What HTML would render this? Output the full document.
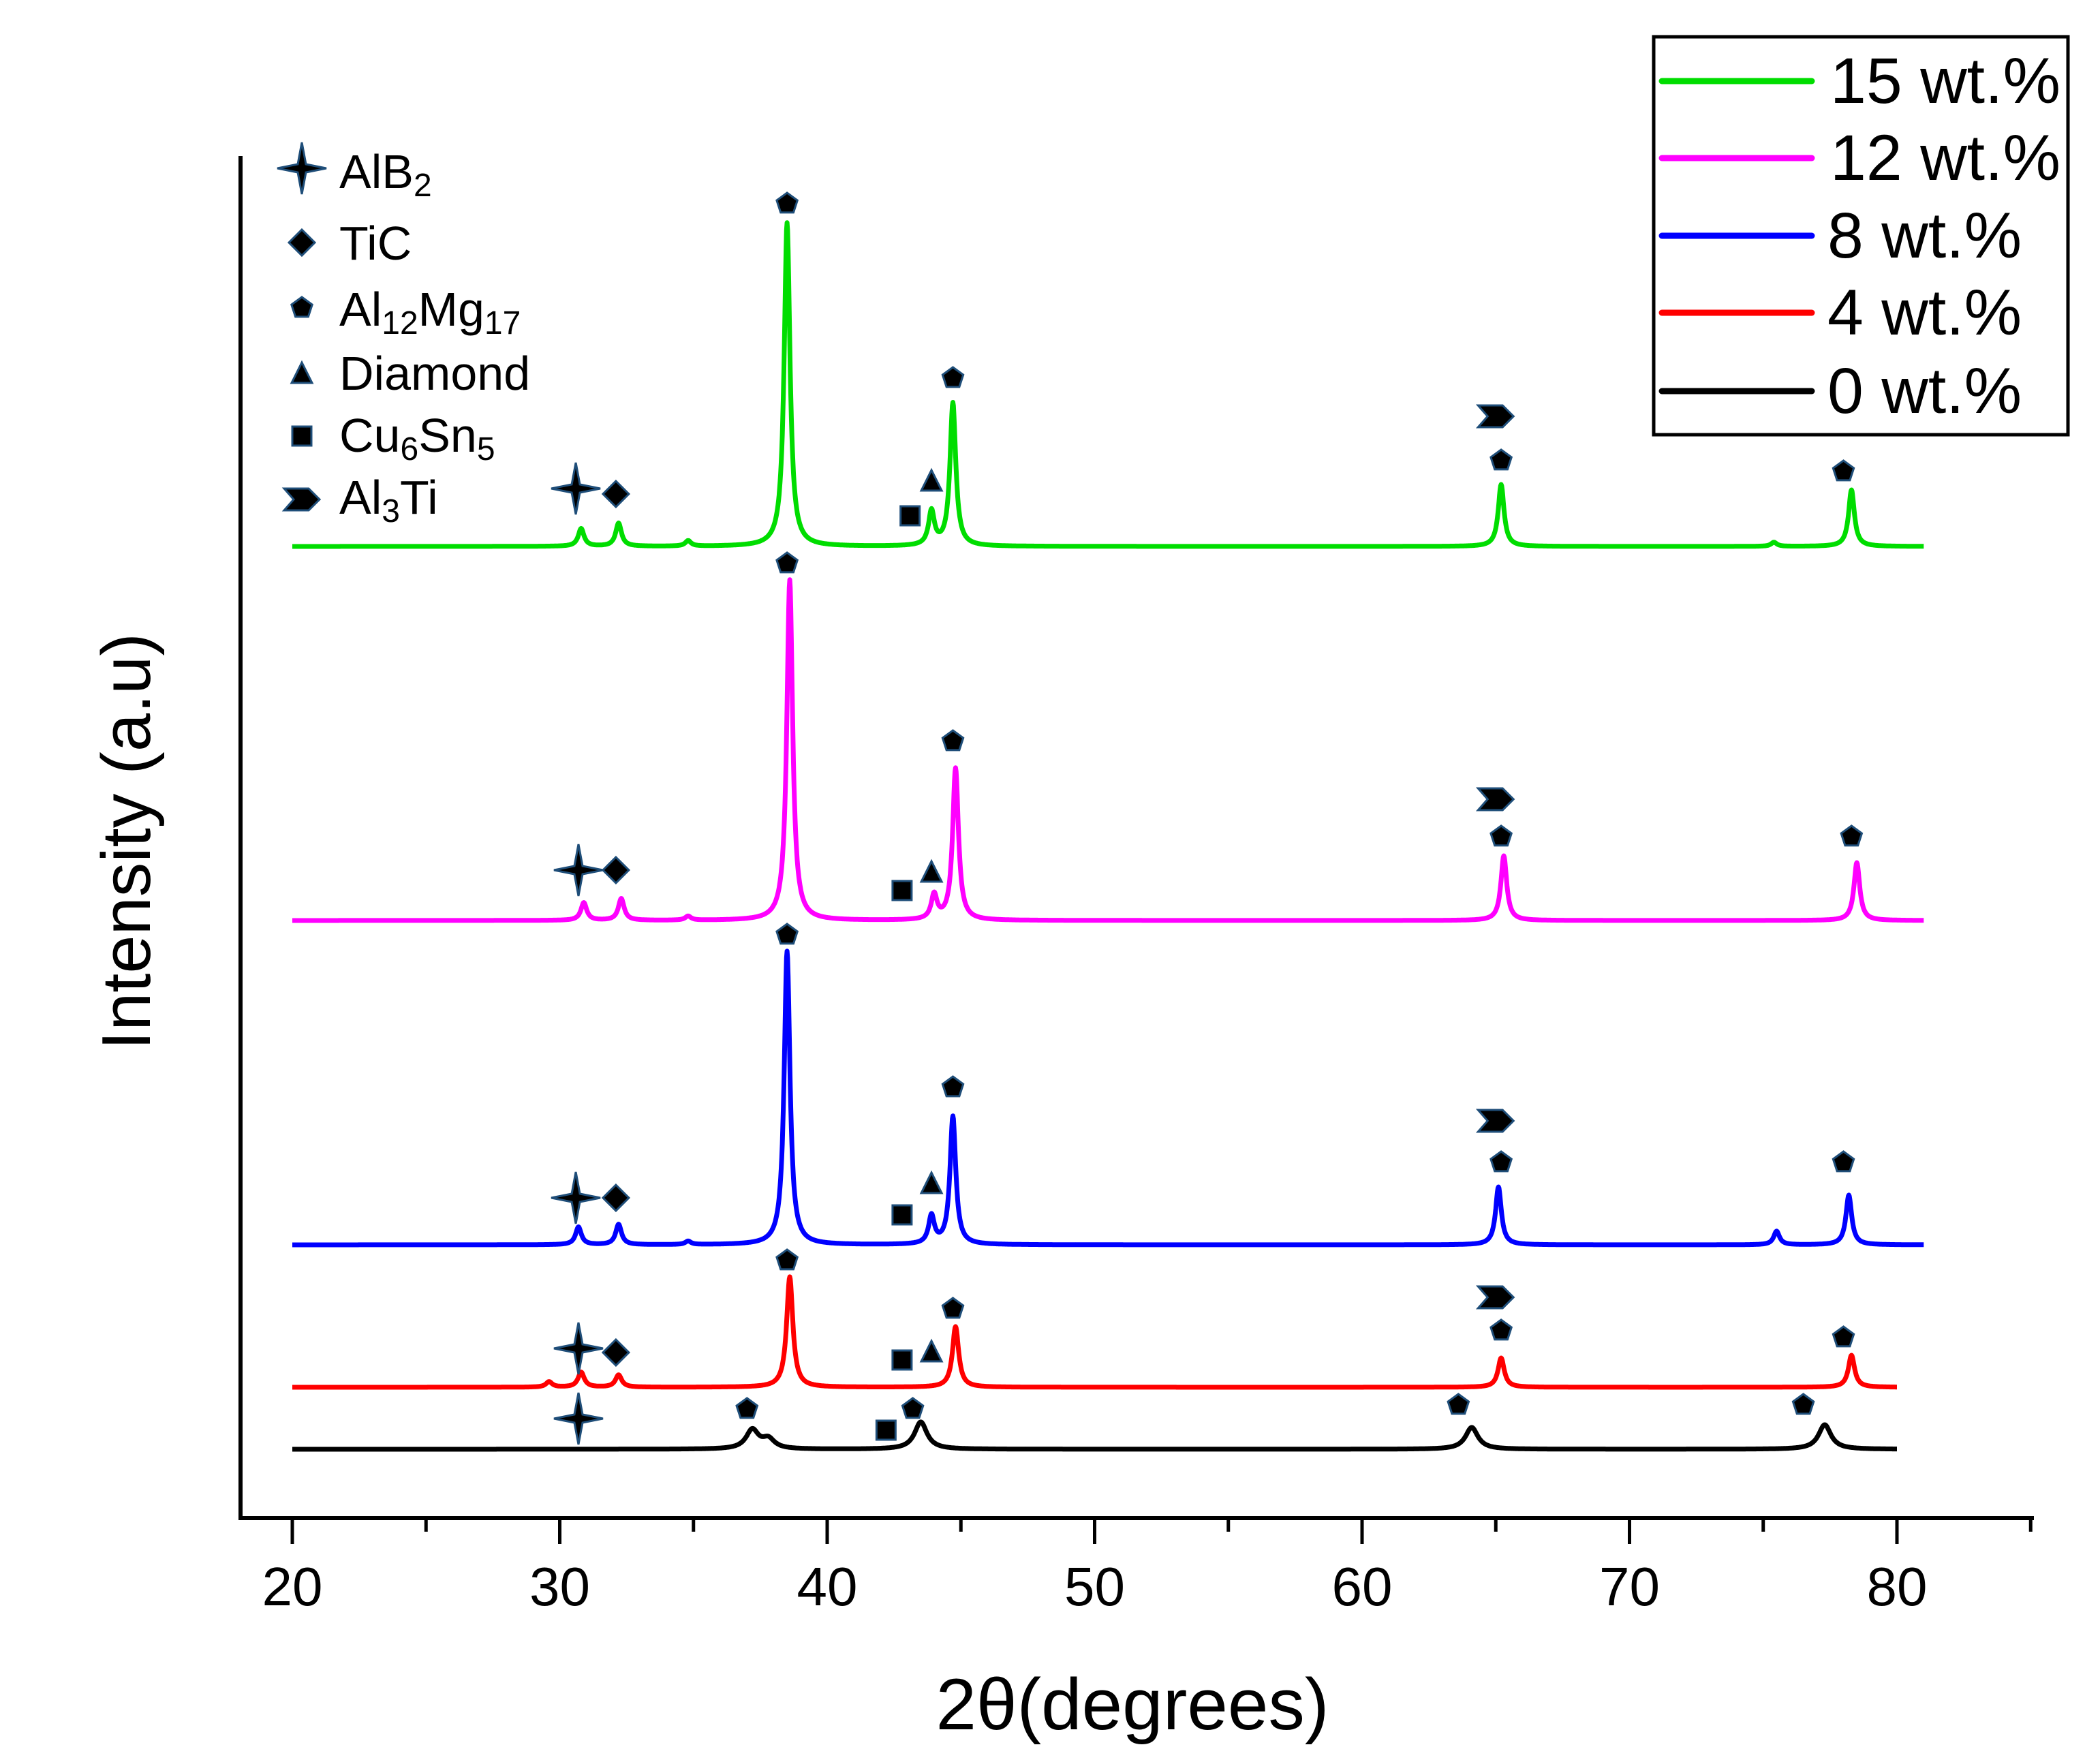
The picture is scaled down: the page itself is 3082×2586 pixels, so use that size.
<!DOCTYPE html>
<html><head><meta charset="utf-8"><style>
html,body{margin:0;padding:0;background:#fff;}
svg{display:block;font-family:"Liberation Sans",Arial,sans-serif;}
</style></head><body>
<svg id="chart" width="3082" height="2586" viewBox="0 0 3082 2586" xmlns="http://www.w3.org/2000/svg">
<rect width="3082" height="2586" fill="#fff"/>
<g id="series"></g>
<g id="marks"></g>
<g id="axes"></g>
<text x="1662" y="2538" font-size="107" text-anchor="middle">2θ(degrees)</text>
<text transform="translate(220,1235) rotate(-90)" font-size="101" text-anchor="middle">Intensity (a.u)</text>
<g font-size="70">
  <text x="498" y="276">AlB<tspan font-size="48" dy="12">2</tspan></text>
  <text x="498" y="381">TiC</text>
  <text x="498" y="478">Al<tspan font-size="48" dy="12">12</tspan><tspan dy="-12">Mg</tspan><tspan font-size="48" dy="12">17</tspan></text>
  <text x="498" y="572">Diamond</text>
  <text x="498" y="663">Cu<tspan font-size="48" dy="12">6</tspan><tspan dy="-12">Sn</tspan><tspan font-size="48" dy="12">5</tspan></text>
  <text x="498" y="754">Al<tspan font-size="48" dy="12">3</tspan><tspan dy="-12">Ti</tspan></text>
</g>
<g id="phaseSyms"></g>
<g>
  <rect x="2427" y="54" width="608" height="584" fill="#fff" stroke="#000" stroke-width="5"/>
  <line x1="2439" y1="119" x2="2659" y2="119" stroke="#00dd00" stroke-width="9" stroke-linecap="round"/>
  <line x1="2439" y1="232" x2="2659" y2="232" stroke="#ff00ff" stroke-width="9" stroke-linecap="round"/>
  <line x1="2439" y1="346" x2="2659" y2="346" stroke="#0000ff" stroke-width="9" stroke-linecap="round"/>
  <line x1="2439" y1="459" x2="2659" y2="459" stroke="#ff0000" stroke-width="9" stroke-linecap="round"/>
  <line x1="2439" y1="574" x2="2659" y2="574" stroke="#000" stroke-width="9" stroke-linecap="round"/>
  <g font-size="95">
    <text x="2686" y="151">15 wt.%</text>
    <text x="2686" y="264">12 wt.%</text>
    <text x="2682" y="378">8 wt.%</text>
    <text x="2682" y="491">4 wt.%</text>
    <text x="2682" y="606">0 wt.%</text>
  </g>
</g>
</svg>
<script>
const seriesNames = ["15 wt.%","12 wt.%","8 wt.%","4 wt.%","0 wt.%"];
const seriesColors = ["#00dd00","#ff00ff","#0000ff","#ff0000","#000000"];
const seriesOffsets = [0,549,1025,1234,1325];
const seriesEnd = [81,81,81,80,80];
const peakPos15 = [30.8,32.2,34.8,38.5,43.9,44.7,65.2,75.4,78.3];
const peakInt15 = [26,34,8,475,50,210,91,6,83];
const peakPos12 = [30.9,32.3,34.8,38.6,44.0,44.8,65.3,78.5];
const peakInt12 = [26,32,6,500,36,223,95,85];
const peakPos8 = [30.7,32.2,34.8,38.5,43.9,44.7,65.1,75.5,78.2];
const peakInt8 = [26,30,5,431,41,188,85,20,73];
const peakPos4 = [29.6,30.8,32.2,38.6,44.8,65.2,78.3];
const peakInt4 = [8,22,18,162,89,43,47];
const peakPos0 = [37.2,37.8,43.5,64.1,77.3];
const peakInt0 = [28,14,40,32,36];
const peakPos = [peakPos15,peakPos12,peakPos8,peakPos4,peakPos0];
const peakInt = [peakInt15,peakInt12,peakInt8,peakInt4,peakInt0];
const peakWidth = [0.13,0.13,0.13,0.14,0.28];
const markSym15 = ["star","diamond","pent","square","tri","pent","chev","pent","pent"];
const markX15 = [30.6,32.1,38.5,43.1,43.9,44.7,65.0,65.2,78.0];
const markY15 = [85,77,503,45,95,247,191,126,110];
const markSym12 = ["star","diamond","pent","square","tri","pent","chev","pent","pent"];
const markX12 = [30.7,32.1,38.5,42.8,43.9,44.7,65.0,65.2,78.3];
const markY12 = [74,74,524,44,70,263,178,123,123];
const markSym8 = ["star","diamond","pent","square","tri","pent","chev","pent","pent"];
const markX8 = [30.6,32.1,38.5,42.8,43.9,44.7,65.0,65.2,78.0];
const markY8 = [69,69,455,44,89,231,182,121,121];
const markSym4 = ["star","diamond","pent","square","tri","pent","chev","pent","pent"];
const markX4 = [30.7,32.1,38.5,42.8,43.9,44.7,65.0,65.2,78.0];
const markY4 = [57,51,186,40,51,115,132,83,73];
const markSym0 = ["star","pent","square","pent","pent","pent"];
const markX0 = [30.7,37.0,42.2,43.2,63.6,76.5];
const markY0 = [45,59,28,59,65,65];
const markSym = [markSym15,markSym12,markSym8,markSym4,markSym0];
const markX = [markX15,markX12,markX8,markX4,markX0];
const markY = [markY15,markY12,markY8,markY4,markY0];
const xTicks = [20,30,40,50,60,70,80];
const xMinorTicks = [25,35,45,55,65,75,85];

const NS="http://www.w3.org/2000/svg";
const X0=429, XK=(2784-429)/60, BASE=802;
function xs(v){return X0+(v-20)*XK;}
function ys(si,v){return BASE+seriesOffsets[si]-v;}
function mk(tag,attrs,parent){const e=document.createElementNS(NS,tag);for(const k in attrs)e.setAttribute(k,attrs[k]);parent.appendChild(e);return e;}

const gS=document.getElementById('series');
for(let s=0;s<5;s++){
  let d="";
  for(let x=20;x<=seriesEnd[s]+1e-9;x+=0.02){
    let v=0;
    for(let p=0;p<peakPos[s].length;p++){const w=peakWidth[s];const t=(x-peakPos[s][p])/w;v+=peakInt[s][p]/(1+t*t);}
    d+=(d?"L":"M")+xs(x).toFixed(1)+","+ys(s,v).toFixed(1);
  }
  const p=mk('path',{d:d,fill:"none",stroke:seriesColors[s],"stroke-width":7,"stroke-linejoin":"round"},gS);
  
  
}

function sym(type,cx,cy,parent){
  const st={fill:"#000",stroke:"#1f4e79","stroke-width":3};
  let e;
  if(type==="star"){
    e=mk('path',Object.assign({d:`M${cx},${cy-38}L${cx+6},${cy-6}L${cx+36},${cy}L${cx+6},${cy+6}L${cx},${cy+38}L${cx-6},${cy+6}L${cx-36},${cy}L${cx-6},${cy-6}Z`},st),parent);
  }else if(type==="diamond"){
    e=mk('path',Object.assign({d:`M${cx},${cy-19}L${cx+19},${cy}L${cx},${cy+19}L${cx-19},${cy}Z`},st),parent);
  }else if(type==="pent"){
    let d="";for(let i=0;i<5;i++){const a=-Math.PI/2+i*2*Math.PI/5;d+=(i?"L":"M")+(cx+16*Math.cos(a)).toFixed(1)+","+(cy+16*Math.sin(a)).toFixed(1);}
    e=mk('path',Object.assign({d:d+"Z"},st),parent);
  }else if(type==="tri"){
    e=mk('path',Object.assign({d:`M${cx},${cy-17}L${cx+15},${cy+13}L${cx-15},${cy+13}Z`},st),parent);
  }else if(type==="square"){
    e=mk('rect',Object.assign({x:cx-14,y:cy-14,width:28,height:28},st),parent);
  }else{
    e=mk('path',Object.assign({d:`M${cx-26},${cy-16}L${cx+10},${cy-16}L${cx+26},${cy}L${cx+10},${cy+16}L${cx-26},${cy+16}L${cx-12},${cy}Z`},st),parent);
  }
  return e;
}
const gM=document.getElementById('marks');
for(let s=0;s<5;s++){
  for(let i=0;i<markSym[s].length;i++){
    const e=sym(markSym[s][i],xs(markX[s][i]),ys(s,markY[s][i]),gM);
    
    
  }
}
const gP=document.getElementById('phaseSyms');
const legSyms=["star","diamond","pent","tri","square","chev"];
const legY=[247,356,452,549,640,733];
for(let i=0;i<6;i++){
  const e=sym(legSyms[i],443,legY[i],gP);
  
  
}

const gA=document.getElementById('axes');
let e=mk('line',{x1:353,y1:229,x2:353,y2:2231,stroke:"#000","stroke-width":6},gA);


e=mk('line',{x1:350,y1:2228,x2:2985,y2:2228,stroke:"#000","stroke-width":6},gA);


for(const t of xTicks){
  e=mk('line',{x1:xs(t),y1:2228,x2:xs(t),y2:2266,stroke:"#000","stroke-width":5},gA);
  
  
  e=mk('text',{x:xs(t),y:2356,"font-size":80,"text-anchor":"middle"},gA);
  e.textContent=t;
  
  
}
for(const t of xMinorTicks){
  e=mk('line',{x1:xs(t),y1:2228,x2:xs(t),y2:2248,stroke:"#000","stroke-width":5},gA);
  
  
}
</script>
</body></html>
